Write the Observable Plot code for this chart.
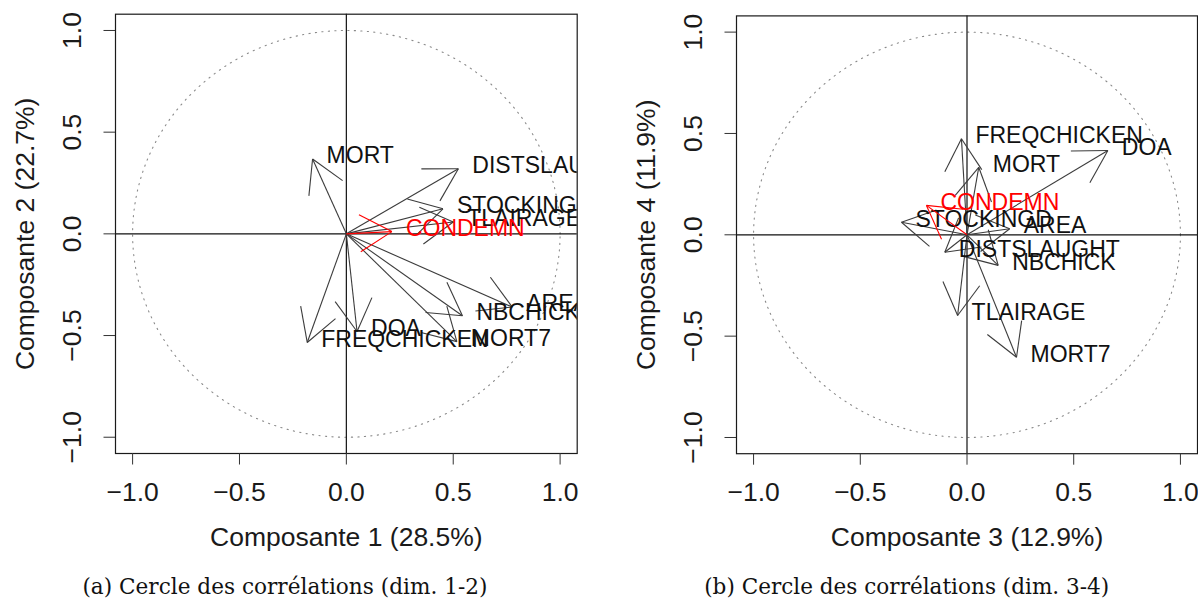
<!DOCTYPE html>
<html><head><meta charset="utf-8">
<script src="https://cdn.jsdelivr.net/npm/d3@7"></script>
<script src="https://cdn.jsdelivr.net/npm/@observablehq/plot@0.6"></script>
<style>
body{margin:0;background:#fff;}
#wrap{position:relative;width:1198px;height:600px;overflow:hidden;background:#fff;}
.panel{position:absolute;top:0;}
.cap{position:absolute;top:560px;left:0;}
</style></head><body><div id="wrap"></div>
<script>
// ---- data (correlations of each variable with the principal components) ----
const variables = ["MORT","DISTSLAUGHT","STOCKINGD","TLAIRAGE","CONDEMN","AREA","NBCHICK","MORT7","DOA","FREQCHICKEN"];
const comp1 = [-0.158, 0.524, 0.452, 0.500, 0.213, 0.776, 0.543, 0.517, 0.050, -0.183];
const comp2 = [ 0.368, 0.320, 0.123, 0.058, 0.011, -0.360, -0.403, -0.530, -0.480, -0.534];
const comp3 = [ 0.055, -0.104, -0.307, -0.044, -0.190, 0.200, 0.146, 0.232, 0.660, -0.026];
const comp4 = [ 0.333, -0.086, 0.062, -0.398, 0.145, 0.030, -0.151, -0.604, 0.416, 0.474];
const highlighted = "CONDEMN";
const axisTicks = [-1, -0.5, 0, 0.5, 1];
const axisTitles = ["Composante 1 (28.5%)", "Composante 2 (22.7%)", "Composante 3 (12.9%)", "Composante 4 (11.9%)"];
const captions = ["(a) Cercle des corrélations (dim. 1-2)", "(b) Cercle des corrélations (dim. 3-4)"];

const FONT = "'Liberation Sans', Arial, Helvetica, sans-serif";
const AXIS_FS = 26.5, LABEL_FS = 23;

function panel(xs, ys, xTitle, yTitle, layout) {
  const data = variables.map((name, i) => ({name, x: xs[i], y: ys[i], red: name === highlighted}));
  const base = {
    width: layout.width, height: 560,
    marginLeft: layout.ml, marginRight: layout.mr, marginTop: layout.mt, marginBottom: layout.mb,
    x: {domain: [-1.08, 1.08]}, y: {domain: [-1.08, 1.08]},
    style: {fontFamily: FONT, color: "#1a1a1a", background: "transparent", overflow: "visible"}
  };
  // probe plot to obtain the pixel mapping of the scales (for fixed-size arrowheads)
  const probe = Plot.plot({...base, marks: [Plot.frame()]});
  const sxo = probe.scale("x"), syo = probe.scale("y");
  const sx = d3.scaleLinear(sxo.domain, sxo.range), sy = d3.scaleLinear(syo.domain, syo.range);
  const L = 37, A = Math.PI / 6;
  const wings = [];
  for (const d of data) {
    const px = sx(d.x), py = sy(d.y), ox = sx(0), oy = sy(0);
    const ang = Math.atan2(oy - py, ox - px);
    for (const s of [-1, 1]) {
      const a = ang + s * A;
      wings.push({x1: d.x, y1: d.y, x2: sx.invert(px + L * Math.cos(a)), y2: sy.invert(py + L * Math.sin(a)), red: d.red});
    }
  }
  const circle = d3.range(0, 361, 1).map(t => ({x: Math.cos(t * Math.PI / 180), y: Math.sin(t * Math.PI / 180)}));
  return Plot.plot({...base, marks: [
    Plot.line(circle, {x: "x", y: "y", stroke: "#8a8a8a", strokeWidth: 1.1, strokeDasharray: "1.2,5.3"}),
    Plot.ruleX([0], {stroke: "#111", strokeWidth: 1.2}),
    Plot.ruleY([0], {stroke: "#111", strokeWidth: 1.2}),
    Plot.link(data.filter(d => !d.red), {x1: d => 0, y1: d => 0, x2: "x", y2: "y", stroke: "#3c3c3c", strokeWidth: 1.1}),
    Plot.link(wings.filter(d => !d.red), {x1: "x1", y1: "y1", x2: "x2", y2: "y2", stroke: "#3c3c3c", strokeWidth: 1.1}),
    Plot.text(data.filter(d => !d.red), {x: "x", y: "y", text: "name", textAnchor: "start", dx: 14, dy: -3, fontSize: LABEL_FS, fill: "#111", clip: true}),
    Plot.link(data.filter(d => d.red), {x1: d => 0, y1: d => 0, x2: "x", y2: "y", stroke: "#ff0000", strokeWidth: 1.1}),
    Plot.link(wings.filter(d => d.red), {x1: "x1", y1: "y1", x2: "x2", y2: "y2", stroke: "#ff0000", strokeWidth: 1.1}),
    Plot.text(data.filter(d => d.red), {x: "x", y: "y", text: "name", textAnchor: "start", dx: 14, dy: -3, fontSize: LABEL_FS, fill: "#ff0000", clip: true}),
    Plot.frame({stroke: "#1a1a1a", strokeWidth: 1.2}),
    Plot.axisX(axisTicks, {tickFormat: d3.format(".1f"), tickSize: 11.5, tickPadding: 17, fontSize: AXIS_FS, label: null, stroke: "#333"}),
    Plot.axisY(axisTicks, {tickFormat: d3.format(".1f"), tickSize: 11.5, tickPadding: 23.5, tickRotate: -90, fontSize: AXIS_FS, label: null, stroke: "#333"}),
    Plot.text([xTitle], {text: d => d, frameAnchor: "bottom", textAnchor: "middle", dy: 92, lineAnchor: "bottom", fontSize: AXIS_FS, fill: "#1a1a1a"}),
    Plot.text([yTitle], {text: d => d, frameAnchor: "left", textAnchor: "middle", dx: -82, rotate: -90, lineAnchor: "bottom", fontSize: AXIS_FS, fill: "#1a1a1a"})
  ]});
}

const wrap = document.getElementById("wrap");
const p1 = panel(comp1, comp2, axisTitles[0], axisTitles[1], {width: 600, ml: 115, mr: 23.3, mt: 13.7, mb: 107});
p1.classList.add("panel"); p1.style.left = "0px";
const p2 = panel(comp3, comp4, axisTitles[2], axisTitles[3], {width: 598, ml: 136, mr: 1, mt: 15.4, mb: 106.8});
p2.classList.add("panel"); p2.style.left = "600px";
wrap.appendChild(p1); wrap.appendChild(p2);

// captions below the two charts
const cap = d3.select(wrap).append("svg").attr("class", "cap").attr("width", 1198).attr("height", 40);
const capPos = [284.9, 906.7];
captions.forEach((c, i) => {
  cap.append("text").attr("x", capPos[i]).attr("y", 34).attr("text-anchor", "middle")
    .attr("font-family", "'DejaVu Serif', 'Liberation Serif', serif").attr("font-size", 22.5)
    .attr("textLength", 405).attr("lengthAdjust", "spacingAndGlyphs").attr("fill", "#111").text(c);
});
</script></body></html>
